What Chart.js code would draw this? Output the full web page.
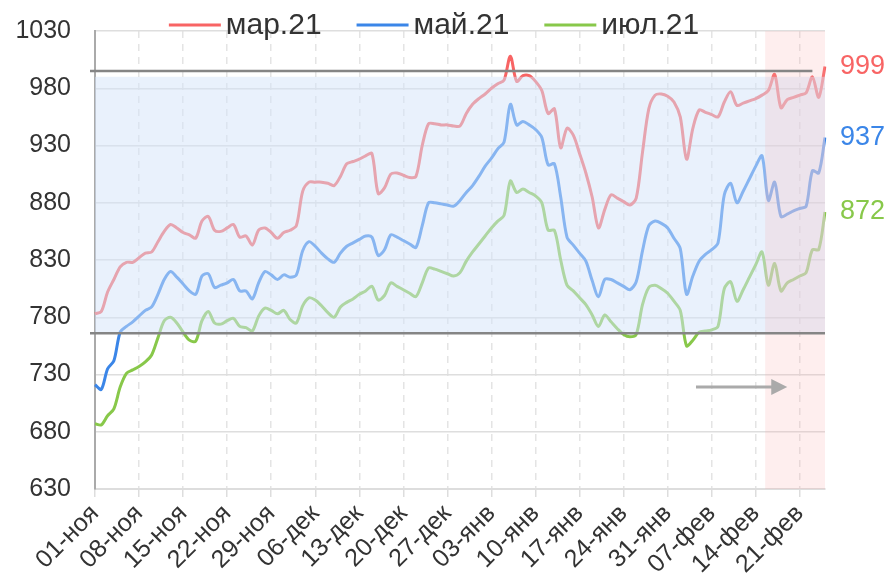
<!DOCTYPE html>
<html>
<head>
<meta charset="utf-8">
<script src="https://cdn.jsdelivr.net/npm/chart.js@4.4.0/dist/chart.umd.min.js"></script>
<style>
  html, body { margin: 0; padding: 0; background: #fff; }
</style>
</head>
<body>
<canvas id="myChart" width="889" height="583"></canvas>
<script>
// Months shown on the axis (name, number of days used)
const months = [['ноя', 30], ['дек', 31], ['янв', 31], ['фев', 25]];

// Weekly tick labels (every 7th day)
const tickLabels = ['01-ноя', '08-ноя', '15-ноя', '22-ноя', '29-ноя', '06-дек', '13-дек', '20-дек', '27-дек',
    '03-янв', '10-янв', '17-янв', '24-янв', '31-янв', '07-фев', '14-фев', '21-фев'];

const seriesNames = ['мар.21', 'май.21', 'июл.21'];

const mar21 = [
    783, 785, 802, 813, 824, 828, 828, 832, 836, 837,
    846, 855, 861, 858, 854, 852, 849, 864, 868, 856,
    855, 858, 861, 850, 851, 843, 856, 858, 854, 849,
    854, 856, 860, 890, 898, 898, 898, 897, 895, 903,
    914, 916, 918, 921, 923, 888, 893, 905, 906, 904,
    902, 903, 930, 949, 949, 948, 948, 947, 947, 958,
    966, 971, 975, 980, 984, 987, 1008, 986, 991, 991,
    986, 978, 958, 962, 928, 945, 939, 923, 906, 885,
    858, 874, 887, 884, 881, 878, 884, 924, 962, 974,
    975, 973, 968, 955, 918, 945, 961, 959, 957, 955,
    968, 977, 965, 967, 969, 971, 974, 978, 992, 963,
    970, 972, 974, 976, 990, 972, 999
];
const may21 = [
    721, 717, 735, 742, 767, 772, 776, 781, 786, 789,
    800, 813, 820, 815, 809, 803, 800, 816, 818, 806,
    808, 810, 813, 803, 803, 796, 810, 820, 817, 813,
    817, 815, 817, 838, 846, 842, 836, 831, 828, 836,
    842, 845, 848, 851, 850, 834, 839, 852, 850, 847,
    844, 841, 860, 880, 880, 879, 878, 877, 882, 889,
    895, 903, 912, 919, 927, 933, 966, 948, 951, 948,
    944, 937, 913, 914, 885, 850, 843, 836, 829, 812,
    798, 813, 813, 810, 807, 804, 811, 838, 860, 864,
    862, 858, 849, 840, 800, 816, 829, 835, 839, 845,
    887, 897, 880, 890, 901, 912, 921, 882, 898, 868,
    870, 873, 875, 877, 908, 906, 937
];
const jul21 = [
    687, 686, 694, 700, 719, 731, 734, 737, 741, 747,
    762, 777, 780, 775, 767, 760, 759, 777, 785, 775,
    774, 777, 779, 772, 771, 768, 781, 788, 786, 783,
    786, 778, 775, 790, 797, 795, 790, 784, 780, 789,
    793, 796, 800, 803, 807, 795, 799, 810, 807, 804,
    801, 798, 810, 823, 822, 820, 818, 816, 819, 829,
    837, 844, 851, 858, 864, 869, 899, 889, 892, 889,
    886, 880, 856, 856, 830, 808, 803, 797, 791, 782,
    772, 782, 776, 770, 765, 763, 765, 791, 806, 808,
    805, 801, 794, 786, 755, 760, 767, 768, 769, 772,
    805, 811, 794, 804, 815, 826, 837, 808, 827, 803,
    810, 813, 816, 819, 839, 839, 872
];

// Reference levels, shaded range and highlighted period
const upperLevel = 995;
const lowerLevel = 766;
const bandRange = [766, 990];
const highlightDays = [106.5, 116];
const upperLevelEnd = 114;
const arrowDays = [95.5, 110];
const arrowLevel = 719;

const colors = ['#f86464', '#3b86e8', '#88c84a'];

// Day labels like 01-ноя
const dates = [];
months.forEach(([m, n]) => {
    for (let d = 1; d <= n; d++) dates.push(String(d).padStart(2, '0') + '-' + m);
});

const overlays = {
    id: 'overlays',
    afterDatasetsDraw(chart) {
        const { ctx, chartArea: a } = chart;
        const x = chart.scales.x, y = chart.scales.y;
        ctx.save();
        // shaded range over the lines
        const bTop = y.getPixelForValue(bandRange[1]);
        const bBot = y.getPixelForValue(bandRange[0]);
        ctx.fillStyle = 'rgba(212,227,249,0.5)';
        ctx.fillRect(a.left, bTop, a.right - a.left, bBot - bTop);
        // highlighted period
        const h1 = x.getPixelForValue(highlightDays[0]);
        const h2 = x.getPixelForValue(highlightDays[1]);
        ctx.fillStyle = 'rgba(248,170,170,0.2)';
        ctx.fillRect(h1, a.top, h2 - h1, a.bottom - a.top);
        // reference lines
        ctx.strokeStyle = '#858585';
        ctx.lineWidth = 2.5;
        ctx.beginPath();
        ctx.moveTo(a.left - 5, y.getPixelForValue(upperLevel));
        ctx.lineTo(x.getPixelForValue(upperLevelEnd), y.getPixelForValue(upperLevel));
        ctx.moveTo(a.left - 5, y.getPixelForValue(lowerLevel));
        ctx.lineTo(a.right, y.getPixelForValue(lowerLevel));
        ctx.stroke();
        // arrow
        const ax1 = x.getPixelForValue(arrowDays[0]);
        const ax2 = x.getPixelForValue(arrowDays[1]);
        const ay = y.getPixelForValue(arrowLevel);
        ctx.strokeStyle = '#aaaaaa';
        ctx.fillStyle = '#aaaaaa';
        ctx.lineWidth = 3;
        ctx.beginPath();
        ctx.moveTo(ax1, ay);
        ctx.lineTo(ax2 - 14, ay);
        ctx.stroke();
        ctx.beginPath();
        ctx.moveTo(ax2, ay);
        ctx.lineTo(ax2 - 16, ay - 8);
        ctx.lineTo(ax2 - 16, ay + 8);
        ctx.closePath();
        ctx.fill();
        // last values on the right
        ctx.font = '27px "Liberation Sans", Arial, sans-serif';
        ctx.textBaseline = 'middle';
        ctx.textAlign = 'left';
        chart.data.datasets.forEach((ds, i) => {
            const v = ds.data[ds.data.length - 1];
            ctx.fillStyle = colors[i];
            ctx.fillText(String(v), a.right + 15, y.getPixelForValue(v));
        });
        ctx.restore();
    },
    afterDraw(chart) {
        // legend drawn over the top of the plot
        const { ctx } = chart;
        ctx.save();
        ctx.font = '30px "Liberation Sans", Arial, sans-serif';
        ctx.textBaseline = 'middle';
        const lineW = 52, gapText = 5, gapItem = 35;
        const widths = seriesNames.map(n => ctx.measureText(n).width);
        const total = widths.reduce((s, w) => s + lineW + gapText + w, 0) + gapItem * (seriesNames.length - 1);
        let cx = 434 - total / 2;
        const cy = 25;
        seriesNames.forEach((n, i) => {
            ctx.strokeStyle = colors[i];
            ctx.lineWidth = 3;
            ctx.beginPath();
            ctx.moveTo(cx, cy);
            ctx.lineTo(cx + lineW, cy);
            ctx.stroke();
            ctx.fillStyle = '#333';
            ctx.fillText(n, cx + lineW + gapText, cy + 1);
            cx += lineW + gapText + widths[i] + gapItem;
        });
        ctx.restore();
    }
};

const ctx = document.getElementById('myChart').getContext('2d');
const myChart = new Chart(ctx, {
    type: 'line',
    data: {
        labels: dates,
        datasets: [mar21, may21, jul21].map((d, i) => ({
            label: seriesNames[i],
            data: d,
            borderColor: colors[i],
            borderWidth: 3,
            pointRadius: 0,
            tension: 0.3,
            fill: false,
        }))
    },
    options: {
        responsive: false,
        animation: false,
        layout: { padding: { left: 0, right: 64, top: 31, bottom: 0 } },
        plugins: {
            legend: { display: false },
            tooltip: { enabled: false },
        },
        scales: {
            x: {
                afterFit: s => { s.height = 94; s.paddingLeft = 0; s.paddingRight = 0; },
                grid: {
                    color: c => c.index % 7 === 0 ? '#e4e4e4' : 'rgba(0,0,0,0)',
                    lineWidth: 1.5,
                    tickLength: 8,
                    tickColor: c => c.index % 7 === 0 ? '#dddddd' : 'rgba(0,0,0,0)',
                },
                border: { color: '#dddddd', width: 2, dash: [7, 6] },
                ticks: {
                    autoSkip: false,
                    minRotation: 45,
                    maxRotation: 45,
                    color: '#333',
                    padding: 2,
                    font: { size: 25, family: '"Liberation Sans", Arial, sans-serif' },
                    callback: (v, i) => i % 7 === 0 ? tickLabels[i / 7] : '',
                },
            },
            y: {
                min: 630,
                max: 1030,
                afterFit: s => { s.width = 95; s.paddingTop = 0; s.paddingBottom = 0; },
                grid: { color: '#dedede', lineWidth: 1.5, drawTicks: false },
                border: { color: '#aaaaaa', width: 2 },
                ticks: {
                    stepSize: 50,
                    color: '#333',
                    padding: 24,
                    font: { size: 25, family: '"Liberation Sans", Arial, sans-serif' },
                    callback: v => String(v),
                },
            },
        },
    },
    plugins: [overlays]
});
</script>
</body>
</html>
